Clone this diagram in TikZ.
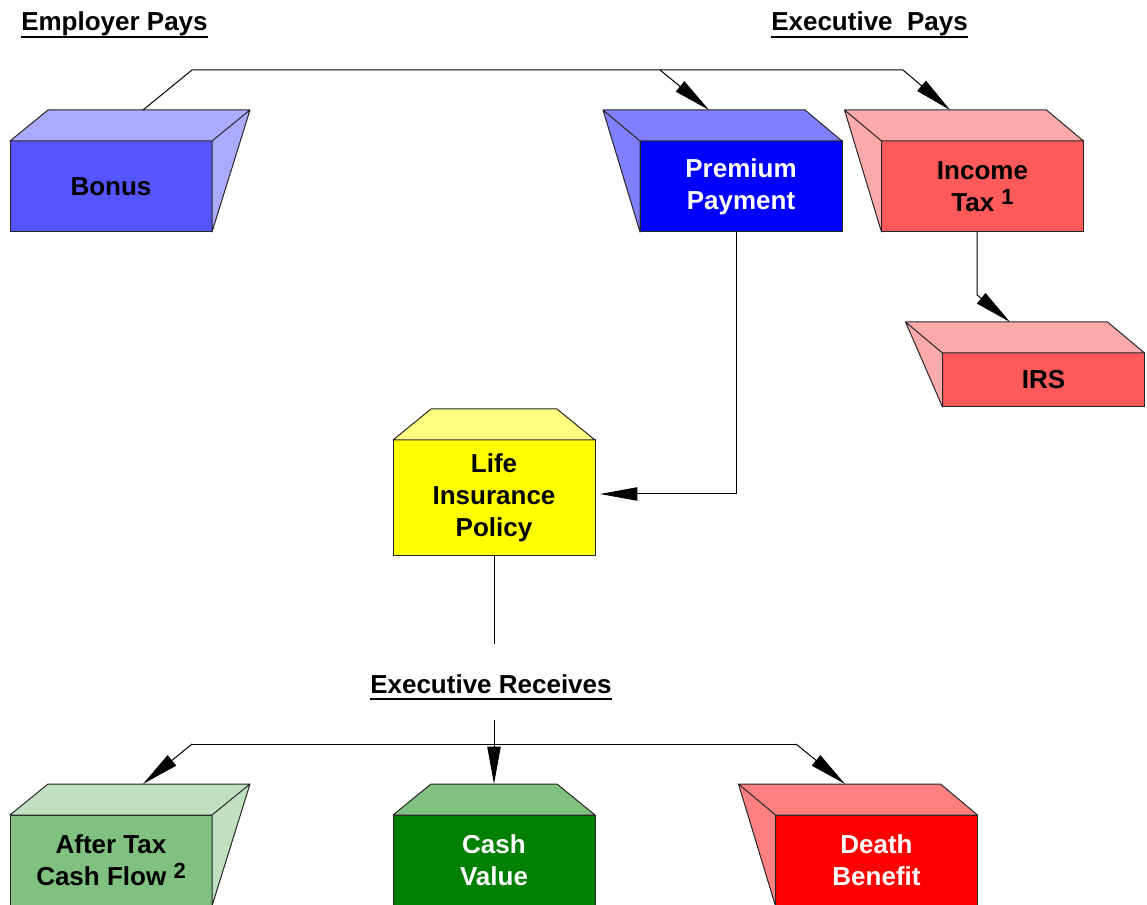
\documentclass[tikz,border=0pt]{standalone}
\usepackage{fontspec}
\setmainfont{Liberation Sans}
\usetikzlibrary{positioning,arrows.meta,calc}

\definecolor{bonusfront}{HTML}{5555FF}
\definecolor{bonustop}{HTML}{AAAAFF}
\definecolor{premfront}{HTML}{0000FF}
\definecolor{premtop}{HTML}{8080FF}
\definecolor{taxfront}{HTML}{FF5A5A}
\definecolor{taxtop}{HTML}{FFAAAA}
\definecolor{lifefront}{HTML}{FFFF00}
\definecolor{lifetop}{HTML}{FFFF80}
\definecolor{afterfront}{HTML}{80C080}
\definecolor{aftertop}{HTML}{C0E0C0}
\definecolor{cashfront}{HTML}{008000}
\definecolor{cashtop}{HTML}{80C080}
\definecolor{deathfront}{HTML}{FF0000}
\definecolor{deathtop}{HTML}{FF8080}

% thick underline through the descenders
\newcommand{\headrule}[1]{\setbox0\hbox{#1}\rlap{\rule[-5.4pt]{\wd0}{1.8pt}}\box0}
\newcommand{\note}[1]{\raisebox{5.2pt}{\fontsize{16.5}{17}\selectfont #1}}

\begin{document}
\begin{tikzpicture}[x=0.75pt, y=-0.75pt,
  front/.style={draw=black!85, line width=0.75pt, minimum width=151.5pt, minimum height=68.25pt,
    inner sep=0pt, outer sep=0pt, align=center, font=\fontsize{19.5}{24}\selectfont\bfseries},
  face/.style={draw=black!85, line width=0.75pt, line join=round},
  heading/.style={font=\fontsize{19.5}{24}\selectfont\bfseries, inner sep=0pt, anchor=base west},
  link/.style={line width=0.75pt, black},
  flow/.style={link, -{Triangle[length=28pt, width=10pt]}}
]
\useasboundingbox (0,0) rectangle (1147,905);

% headings
\node[heading] (employer) at (21,31) {\headrule{Employer Pays}};
\node[heading] (executive) at (771,31) {\headrule{Executive\ \ Pays}};
\node[heading] (receives) at (370,693) {\headrule{Executive Receives}};

% front faces
\node[front, fill=bonusfront] (bonus) at (111,186.5) {Bonus};
\node[front, fill=premfront, text=white] (premium) at (741,186.5) {Premium\\Payment};
\node[front, fill=taxfront] (income) at (982.5,186.5) {Income\\Tax \note{1}};
\node[front, fill=taxfront, minimum height=40.5pt] (irs) at (1043.5,380) {IRS};
\node[front, fill=lifefront, minimum height=87pt] (life) at (494,498) {Life\\Insurance\\Policy};
\node[front, fill=afterfront] (aftertax) at (111,860.5) {After Tax\\Cash Flow \note{2}};
\node[front, fill=cashfront, text=white] (cash) at (494,860.5) {Cash\\Value};
\node[front, fill=deathfront, text=white] (death) at (876.5,860.5) {Death\\Benefit};

% top and side faces
\foreach \b/\c in {bonus/bonustop, aftertax/aftertop}
  \filldraw[face, fill=\c] (\b.north west) -- ++(38,-31) -- ($(\b.north east)+(38,-31)$) -- (\b.north east) -- cycle
    (\b.north east) -- ++(38,-31) -- (\b.south east) -- cycle;
\foreach \b/\c in {premium/premtop, income/taxtop, irs/taxtop, death/deathtop}
  \filldraw[face, fill=\c] (\b.north east) -- ++(-37,-31) -- ($(\b.north west)+(-37,-31)$) -- (\b.north west) -- cycle
    (\b.north west) -- ++(-37,-31) -- (\b.south west) -- cycle;
\foreach \b/\c in {life/lifetop, cash/cashtop}
  \filldraw[face, fill=\c] (\b.north west) -- ++(38,-31) -- ($(\b.north east)+(-38,-31)$) -- (\b.north east) -- cycle;

% connector ends
\coordinate (bonus-top) at ($(bonus.north)+(32,-31)$);
\coordinate (premium-top) at ($(premium.north)+(-32,-31)$);
\coordinate (income-top) at ($(income.north)+(-32.5,-31)$);
\coordinate (irs-top) at ($(irs.north)+(-33.5,-31)$);
\coordinate (aftertax-top) at ($(aftertax.north)+(32,-31)$);
\coordinate (cash-top) at ($(cash.north)+(0,-31)$);
\coordinate (death-top) at ($(death.north)+(-31.5,-31)$);
\coordinate (bonus-bend) at (192,70);
\coordinate (premium-fork) at (660,70);
\coordinate (tax-bend) at (903,70);
\coordinate (left-fork) at (192,744);
\coordinate (right-fork) at (796,744);

% employer and executive pay
\draw[flow] (bonus-top) -- (bonus-bend) -- (tax-bend) -- (income-top);
\draw[flow] (premium-fork) -- (premium-top);
\draw[flow] ([xshift=-4pt]income.south) -- ++(0,63) -- (irs-top);
\draw[flow] ([xshift=-3.75pt]premium.south) |- ([xshift=3.75pt, yshift=3pt]life.east);

% executive receives
\draw[link] (life.south) -- ++(0,88);
\draw[flow] ($(receives.south -| life.south)+(0,20)$) -- (cash-top);
\draw[link] (left-fork) -- (right-fork);
\draw[flow] (left-fork) -- (aftertax-top);
\draw[flow] (right-fork) -- (death-top);
\end{tikzpicture}
\end{document}
